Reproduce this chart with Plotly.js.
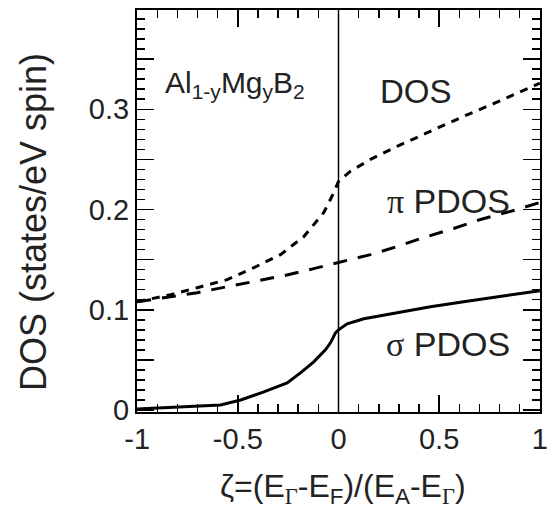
<!DOCTYPE html>
<html>
<head>
<meta charset="utf-8">
<script src="https://cdn.plot.ly/plotly-3.0.1.min.js"></script>
<style>html,body{margin:0;padding:0;background:#fff;}#chart{width:548px;height:515px;}</style>
</head>
<body>
<div id="chart"></div>
<script>
// ---- data ----
const zetaDOS = [-1.0, -0.834, -0.702, -0.553, -0.42, -0.288, -0.172, -0.073, -0.023, 0.0, 0.058, 0.159, 0.291, 0.457, 0.622, 0.787, 1.0];
const dosTotal = [0.108, 0.115, 0.122, 0.130, 0.142, 0.155, 0.173, 0.197, 0.217, 0.228, 0.238, 0.250, 0.263, 0.278, 0.293, 0.307, 0.326];

const zetaPi = [-1.0, -0.834, -0.702, -0.553, -0.42, -0.271, -0.123, 0.0, 0.159, 0.291, 0.423, 0.572, 0.705, 0.87, 1.0];
const dosPi = [0.108, 0.113, 0.117, 0.123, 0.128, 0.134, 0.141, 0.147, 0.155, 0.163, 0.172, 0.181, 0.190, 0.199, 0.207];

const zetaSigma = [-1.0, -0.883, -0.586, -0.486, -0.371, -0.255, -0.189, -0.123, -0.065, -0.04, -0.015, 0.0, 0.043, 0.126, 0.291, 0.457, 0.622, 0.787, 1.0];
const dosSigma = [0.001, 0.002, 0.005, 0.010, 0.018, 0.027, 0.037, 0.048, 0.060, 0.067, 0.077, 0.080, 0.086, 0.091, 0.097, 0.103, 0.108, 0.113, 0.119];

const fermiLineX = [0, 0];
const fermiLineY = [-0.002, 0.399];

const xRange = [-1.001, 1.001];
const yRange = [-0.002, 0.399];
const xTickVals = [-1, -0.5, 0, 0.5, 1];
const xTickText = ['-1', '-0.5', '0', '0.5', '1'];
const yTickVals = [0, 0.05, 0.1, 0.15, 0.2, 0.25, 0.3, 0.35];
const yTickText = ['0', ' ', '0.1', ' ', '0.2', ' ', '0.3', ' '];

const serif = "'Liberation Serif', 'Times New Roman', serif";
const labelAl = 'Al<sub>1-y</sub>Mg<sub>y</sub>B<sub>2</sub>';
const labelDOS = 'DOS';
const labelPi = '<span style="font-family:' + serif + '">π</span> PDOS';
const labelSigma = '<span style="font-family:' + serif + '">σ</span> PDOS';
const xTitle = 'ζ=(E<sub><span style="font-family:' + serif + '">Γ</span></sub>-E<sub>F</sub>)/(E<sub>A</sub>-E<sub><span style="font-family:' + serif + '">Γ</span></sub>)';
const yTitle = 'DOS (states/eV spin)';

// ---- traces ----
const traces = [
  {x: fermiLineX, y: fermiLineY, mode: 'lines', line: {color: '#000', width: 1.5}, hoverinfo: 'skip'},
  {x: zetaDOS, y: dosTotal, mode: 'lines', line: {color: '#000', width: 3, dash: '8px,7px'}},
  {x: zetaPi, y: dosPi, mode: 'lines', line: {color: '#000', width: 3, dash: '14px,11px'}},
  {x: zetaSigma, y: dosSigma, mode: 'lines', line: {color: '#000', width: 3}}
];

const axisCommon = {
  showgrid: false, zeroline: false, showline: true, linecolor: '#000', linewidth: 2,
  mirror: 'ticks', ticks: 'inside', tickcolor: '#000', tickwidth: 1.5, ticklen: 17,
  tickfont: {size: 29, color: '#222'}
};

const layout = {
  width: 548, height: 515,
  margin: {l: 137, r: 8, t: 10, b: 103},
  paper_bgcolor: '#fff', plot_bgcolor: '#fff',
  showlegend: false,
  font: {family: "'Liberation Sans', Arial, sans-serif", color: '#222'},
  xaxis: Object.assign({}, axisCommon, {
    range: xRange, tickmode: 'array', tickvals: xTickVals, ticktext: xTickText,
    minor: {tickmode: 'linear', dtick: 0.1, tick0: 0, ticklen: 8, tickwidth: 1.5, tickcolor: '#000', ticks: 'inside'}
  }),
  yaxis: Object.assign({}, axisCommon, {
    range: yRange, tickmode: 'array', tickvals: yTickVals, ticktext: yTickText,
    minor: {tickmode: 'linear', dtick: 0.01, tick0: 0, ticklen: 8, tickwidth: 1.5, tickcolor: '#000', ticks: 'inside'}
  }),
  annotations: [
    {xref: 'paper', yref: 'paper', text: labelAl, showarrow: false, font: {size: 30, color: '#222'}, xanchor: 'center', yanchor: 'middle', x: 0.243, y: 0.815},
    {xref: 'paper', yref: 'paper', text: labelDOS, showarrow: false, font: {size: 33, color: '#222'}, xanchor: 'center', yanchor: 'middle', x: 0.692, y: 0.797},
    {xref: 'paper', yref: 'paper', text: labelPi, showarrow: false, font: {size: 34, color: '#222'}, xanchor: 'center', yanchor: 'middle', x: 0.774, y: 0.525},
    {xref: 'paper', yref: 'paper', text: labelSigma, showarrow: false, font: {size: 34, color: '#222'}, xanchor: 'center', yanchor: 'middle', x: 0.772, y: 0.169},
    {xref: 'paper', yref: 'paper', text: yTitle, showarrow: false, textangle: -90, font: {size: 36, color: '#222'}, xanchor: 'center', yanchor: 'middle', x: -0.255, y: 0.473},
    {xref: 'paper', yref: 'paper', text: xTitle, showarrow: false, font: {size: 32, color: '#222'}, xanchor: 'center', yanchor: 'middle', x: 0.51, y: -0.19}
  ]
};

Plotly.newPlot('chart', traces, layout, {displayModeBar: false, staticPlot: true});
</script>
</body>
</html>
